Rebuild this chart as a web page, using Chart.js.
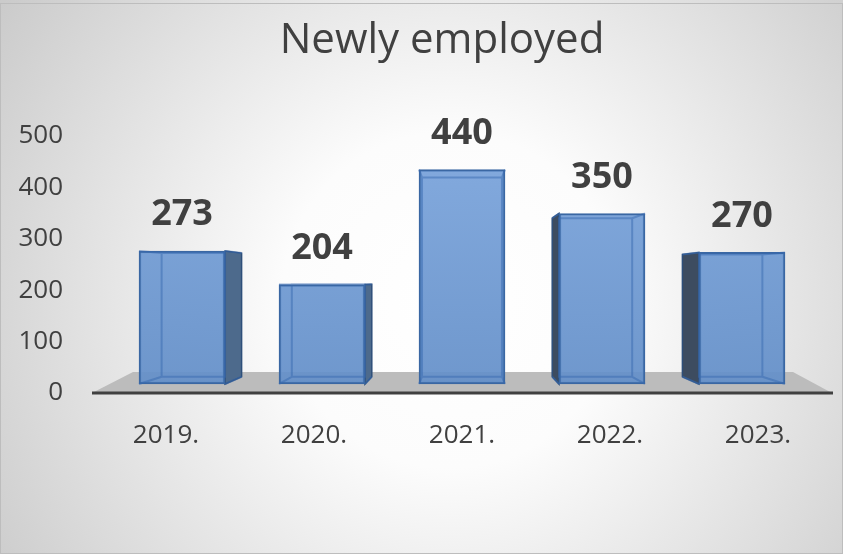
<!DOCTYPE html>
<html>
<head>
<meta charset="utf-8">
<script src="https://cdn.jsdelivr.net/npm/chart.js@4"></script>
<style>
  html, body { margin: 0; padding: 0; background: #fff; }
  #wrap { width: 843px; height: 554px; }
</style>
</head>
<body>
<div id="wrap"><canvas id="chart"></canvas></div>
<script>
const years = ["2019.", "2020.", "2021.", "2022.", "2023."];
const employed = [273, 204, 440, 350, 270];
const yMax = 500;
const yStep = 100;
const chartTitle = "Newly employed";

const FONT = "'Open Sans', sans-serif";
const TEXT = "#404040";

// back face of each box = front face shrunk toward a vanishing point
const DEPTH = 0.93;

function vanishingPoint(chart) {
  return [chart.scales.xb.getPixelForValue(2), chart.chartArea.top + 145];
}

const backdrop = {
  id: "backdrop",
  beforeDraw(chart) {
    const { ctx, width, height } = chart;
    const g = ctx.createRadialGradient(450, 300, 0, 450, 300, 560);
    g.addColorStop(0, "#ffffff");
    g.addColorStop(0.3, "#fcfcfc");
    g.addColorStop(1, "#c8c8c8");
    ctx.save();
    ctx.fillStyle = g;
    ctx.fillRect(0, 0, width, height);
    ctx.strokeStyle = "#bdbdbd";
    ctx.lineWidth = 1;
    ctx.strokeRect(0.5, 3.5, width - 1, height - 4);

    ctx.fillStyle = TEXT;
    ctx.font = `42px ${FONT}`;
    ctx.textAlign = "center";
    ctx.textBaseline = "alphabetic";
    ctx.fillText(chartTitle, 442, 53);
    ctx.restore();
  },
};

const boxes = {
  id: "boxes",
  beforeDatasetsDraw(chart) {
    const { ctx, chartArea: a, scales } = chart;
    const y0 = scales.y.getPixelForValue(0);
    ctx.save();

    // grey floor and the axis line along its front edge
    ctx.fillStyle = "#bcbcbc";
    ctx.beginPath();
    ctx.moveTo(a.left, y0);
    ctx.lineTo(a.left + 41, y0 - 21);
    ctx.lineTo(a.right - 39, y0 - 21);
    ctx.lineTo(a.right, y0);
    ctx.closePath();
    ctx.fill();
    ctx.strokeStyle = "#404040";
    ctx.lineWidth = 3;
    ctx.beginPath();
    ctx.moveTo(a.left, y0);
    ctx.lineTo(a.right + 1, y0);
    ctx.stroke();

    // side faces
    const [vx, vy] = vanishingPoint(chart);
    const back = (x, y) => [vx + (x - vx) * DEPTH, vy + (y - vy) * DEPTH];
    chart.getDatasetMeta(0).data.forEach((bar) => {
      const l = bar.x - bar.width / 2, r = bar.x + bar.width / 2;
      const t = bar.y, b = bar.base;
      const [bl, bt] = back(l, t);
      const [br, bb] = back(r, b);
      let edge = null, far = null, fill = null;
      if (br > r + 0.5) { edge = r; far = br; fill = "#4d6a8c"; }
      else if (bl < l - 0.5) { edge = l; far = bl; fill = "#3d4c60"; }
      if (edge === null) return;
      ctx.fillStyle = fill;
      ctx.strokeStyle = "#2e4f7a";
      ctx.lineWidth = 1.5;
      ctx.beginPath();
      ctx.moveTo(edge, t);
      ctx.lineTo(far, bt);
      ctx.lineTo(far, bb);
      ctx.lineTo(edge, b);
      ctx.closePath();
      ctx.fill();
      ctx.stroke();
    });
    ctx.restore();
  },
  afterDatasetsDraw(chart) {
    const { ctx } = chart;
    const [vx, vy] = vanishingPoint(chart);
    const back = (x, y) => [vx + (x - vx) * DEPTH, vy + (y - vy) * DEPTH];
    ctx.save();
    chart.getDatasetMeta(0).data.forEach((bar, i) => {
      const l = bar.x - bar.width / 2, r = bar.x + bar.width / 2;
      const t = bar.y, b = bar.base;
      const [bl, bt] = back(l, t);
      const [br, bb] = back(r, b);

      // hidden edges seen through the translucent front
      ctx.strokeStyle = "rgba(55, 105, 175, 0.5)";
      ctx.lineWidth = 2;
      ctx.beginPath();
      ctx.rect(Math.max(bl, l), bt, Math.min(br, r) - Math.max(bl, l), bb - bt);
      ctx.moveTo(l, b); ctx.lineTo(bl, bb);
      ctx.moveTo(r, b); ctx.lineTo(br, bb);
      ctx.moveTo(l, t); ctx.lineTo(bl, bt);
      ctx.moveTo(r, t); ctx.lineTo(br, bt);
      ctx.stroke();

      // value label
      ctx.fillStyle = TEXT;
      ctx.font = `bold 36px ${FONT}`;
      ctx.textAlign = "center";
      ctx.textBaseline = "middle";
      ctx.fillText(String(employed[i]), bar.x, t - 36);
    });
    ctx.restore();
  },
};

function frontFill(context) {
  const { ctx, chartArea } = context.chart;
  if (!chartArea) return "rgba(100,145,200,0.9)";
  const g = ctx.createLinearGradient(0, chartArea.bottom, 0, chartArea.top);
  g.addColorStop(0, "rgba(98, 142, 200, 0.92)");
  g.addColorStop(1, "rgba(122, 164, 220, 0.92)");
  return g;
}

new Chart(document.getElementById("chart"), {
  type: "bar",
  data: {
    labels: years,
    datasets: [
      {
        data: employed.map((v, i) => ({ x: i, y: v })),
        xAxisID: "xb",
        yAxisID: "yb",
        backgroundColor: frontFill,
        borderColor: "#3a67a3",
        borderWidth: 2,
        borderSkipped: false,
        barThickness: 86,
      },
    ],
  },
  options: {
    responsive: true,
    maintainAspectRatio: false,
    animation: false,
    layout: { padding: { top: 136, left: 16, right: 11, bottom: 0 } },
    plugins: {
      legend: { display: false },
      tooltip: { enabled: false },
      title: { display: false },
    },
    scales: {
      x: {
        type: "category",
        labels: years,
        offset: true,
        grid: { display: false, drawTicks: false },
        border: { display: false },
        ticks: { padding: 27, color: TEXT, font: { family: FONT, size: 26 } },
        afterFit: (s) => { s.height = 161; },
      },
      y: {
        min: 0,
        max: yMax,
        grid: { display: false, drawTicks: false },
        border: { display: false },
        ticks: { stepSize: yStep, padding: 29, color: TEXT, font: { family: FONT, size: 26 } },
        afterFit: (s) => { s.width = 76; },
      },
      // bars sit a little behind the axis line, on a slightly flatter scale
      xb: { type: "linear", display: false, offset: false, min: -0.643, max: 4.643 },
      yb: { type: "linear", display: false, min: -18.5, max: 509 },
    },
  },
  plugins: [backdrop, boxes],
});
</script>
</body>
</html>
